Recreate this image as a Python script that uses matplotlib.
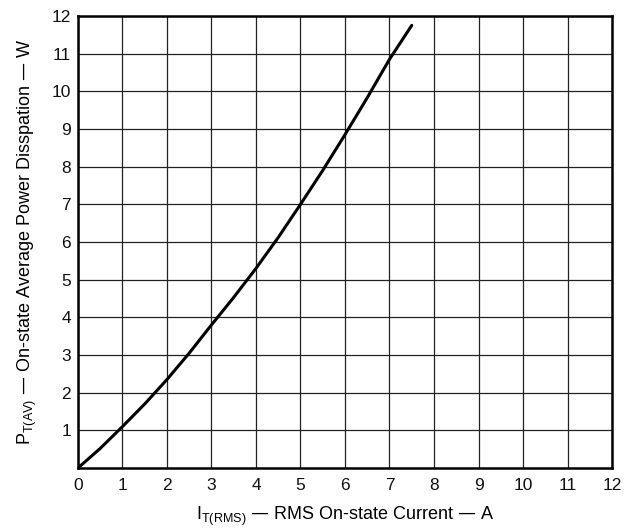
import matplotlib.pyplot as plt

# values
current = [0, 0.5, 1, 1.5, 2, 2.5, 3, 3.5, 4, 4.5, 5, 5.5, 6, 6.5, 7, 7.5]
power = [0, 0.52, 1.1, 1.7, 2.35, 3.05, 3.8, 4.53, 5.3, 6.12, 7.0, 7.9, 8.85, 9.83, 10.85, 11.75]

x_ticks = list(range(0, 13))
y_ticks = list(range(1, 13))

plt.rcParams['font.family'] = ['Liberation Sans', 'DejaVu Sans']
plt.rcParams['mathtext.default'] = 'regular'

fig = plt.figure(figsize=(6.35, 5.32), dpi=100)
ax = fig.add_axes([0.1228, 0.1203, 0.8410, 0.8497])

ax.plot(current, power, color='black', linewidth=2.2, solid_capstyle='round')

ax.set_xlim(0, 12)
ax.set_ylim(0, 12)
ax.set_xticks(x_ticks)
ax.set_yticks(y_ticks)
ax.tick_params(length=0, labelsize=12.5, colors='#111111')
ax.tick_params(axis='x', pad=7)
ax.tick_params(axis='y', pad=5)
ax.grid(True, color='#222222', linewidth=0.9)
ax.set_axisbelow(True)
for side in ax.spines.values():
    side.set_linewidth(1.8)
    side.set_color('black')

ax.set_xlabel(r'I$_{T(RMS)}$ — RMS On-state Current — A', fontsize=13, labelpad=9)
ax.set_ylabel(r'P$_{T(AV)}$ — On-state Average Power Disspation — W', fontsize=13, labelpad=9)

fig.savefig('out.png', dpi=100)
